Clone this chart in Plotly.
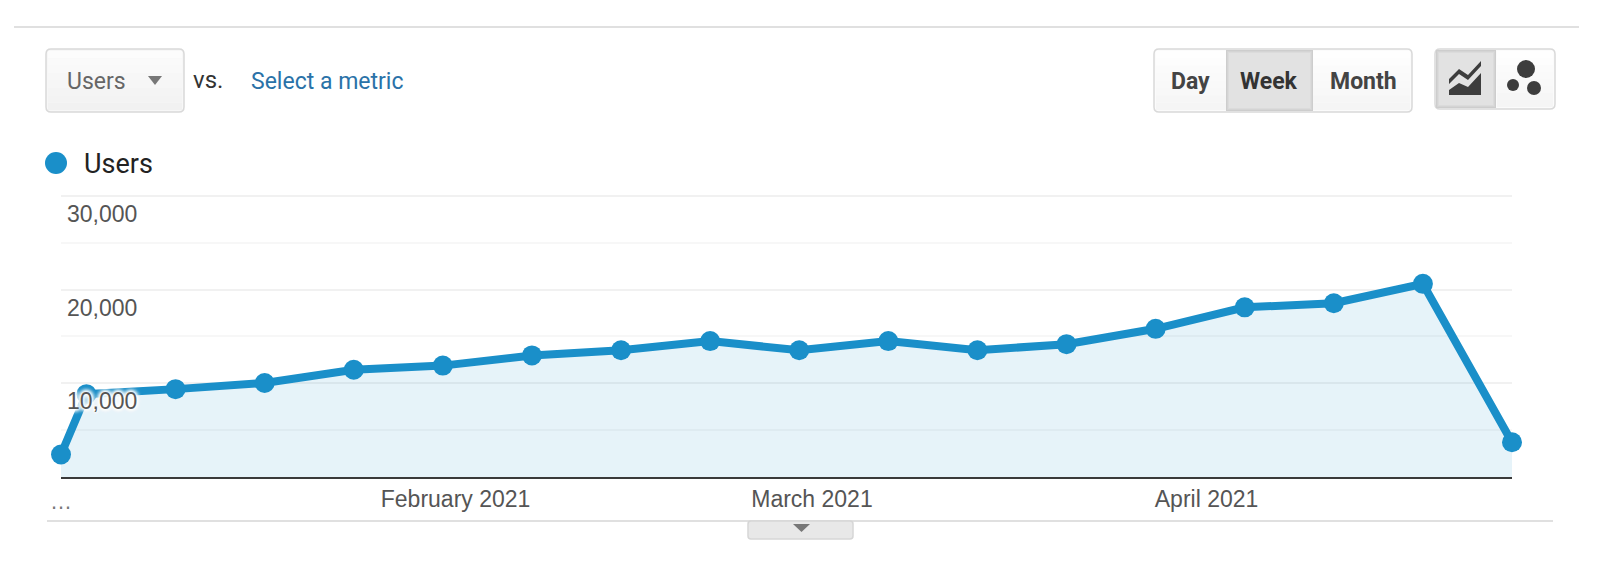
import plotly.graph_objects as go

W = 1600
H = 564

week_dates = ["2021-01-01", "2021-01-03", "2021-01-10", "2021-01-17", "2021-01-24", "2021-01-31",
              "2021-02-07", "2021-02-14", "2021-02-21", "2021-02-28", "2021-03-07", "2021-03-14",
              "2021-03-21", "2021-03-28", "2021-04-04", "2021-04-11", "2021-04-18", "2021-04-25"]
users = [2400, 8840, 9380, 10040, 11450, 11890, 12980, 13530, 14510,
         13530, 14510, 13530, 14180, 15820, 18110, 18550, 20620, 3710]

y_ticks = [10000, 20000, 30000]
y_labels = ["10,000", "20,000", "30,000"]
x_ticks = ["2021-02-01", "2021-03-01", "2021-04-01"]
x_labels = ["February 2021", "March 2021", "April 2021"]
first_tick = "2021-01-01"
first_label = "…"

BLUE = "#1a8fc9"
FILL = "rgba(26,143,201,0.11)"
SANS = "Liberation Sans"
UI = "Roboto"


def px(x):
    return x / W


def py(y):
    return 1 - y / H


def rounded(x0, y0, x1, y1, r=5, left=True, right=True):
    # rounded box as a pixel path, the chart page has margins of 0
    lr = r if left else 0
    rr = r if right else 0
    return (f"M {px(x0 + lr)} {py(y0)} L {px(x1 - rr)} {py(y0)} "
            f"Q {px(x1)} {py(y0)} {px(x1)} {py(y0 + rr)} "
            f"L {px(x1)} {py(y1 - rr)} Q {px(x1)} {py(y1)} {px(x1 - rr)} {py(y1)} "
            f"L {px(x0 + lr)} {py(y1)} Q {px(x0)} {py(y1)} {px(x0)} {py(y1 - lr)} "
            f"L {px(x0)} {py(y0 + lr)} Q {px(x0)} {py(y0)} {px(x0 + lr)} {py(y0)} Z")


def poly(points):
    return "M " + " L ".join(f"{px(a)} {py(b)}" for a, b in points) + " Z"


def box(x0, y0, x1, y1, fill="#f7f7f7", line="#d9d9d9", **kw):
    return dict(type="path", xref="paper", yref="paper", path=rounded(x0, y0, x1, y1, **kw),
                fillcolor=fill, line=dict(color=line, width=1.5))


def rect(x0, y0, x1, y1, fill):
    return dict(type="rect", xref="paper", yref="paper", x0=px(x0), x1=px(x1), y0=py(y0), y1=py(y1),
                fillcolor=fill, line=dict(width=0))


def bands(x0, y0, x1, y1, top, bottom, n=8):
    # stepped grey gradient, shapes have no gradient fill
    out = []
    for i in range(n):
        g = round(top + (bottom - top) * i / (n - 1))
        ya = y0 + (y1 - y0) * i / n
        yb = y0 + (y1 - y0) * (i + 1) / n
        out.append(rect(x0, ya, x1, yb, f"rgb({g},{g},{g})"))
    return out


def sunken(x0, y0, x1, y1):
    # pressed button: darker at the edges, lighter in the middle
    out = []
    for inset, g in [(0, 205), (1, 212), (2, 219), (3, 226)]:
        out.append(rect(x0 + inset, y0 + inset, x1 - inset, y1 - inset, f"rgb({g},{g},{g})"))
    return out


def hline(x0, x1, y, color="#d6d6d6", width=1.5):
    return dict(type="line", xref="paper", yref="paper", x0=px(x0), x1=px(x1), y0=py(y), y1=py(y),
                line=dict(color=color, width=width))


def tri(x0, x1, y0, y1, color="#777777"):
    return dict(type="path", xref="paper", yref="paper", fillcolor=color, line=dict(width=0),
                path=poly([(x0, y0), (x1, y0), ((x0 + x1) / 2, y1)]))


def dot(cx, cy, r, color="#3d3d3d"):
    return dict(type="circle", xref="paper", yref="paper", fillcolor=color, line=dict(width=0),
                x0=px(cx - r), x1=px(cx + r), y0=py(cy - r), y1=py(cy + r))


def label(x, y, text, size=23, color="#666666", family=UI, anchor="left", bold=False):
    if bold:
        text = f"<b>{text}</b>"
    return dict(xref="paper", yref="paper", x=px(x), y=py(y), text=text, showarrow=False,
                xanchor=anchor, yanchor="middle", font=dict(size=size, color=color, family=family))


shapes = [
    hline(14, 1579, 27),
    hline(47, 1553, 521),
    # metric dropdown
    box(46, 49, 184, 112),
    *bands(48, 51, 182, 110, 252, 241),
    tri(148, 162, 76, 85),
    # Day / Week / Month
    box(1154, 49, 1412, 112, fill="#fbfbfb"),
    *bands(1156, 51, 1410, 110, 254, 245),
    *sunken(1226, 50, 1313, 111),
    # chart type buttons
    box(1435, 49, 1555, 109, fill="#fbfbfb"),
    *bands(1497, 51, 1553, 107, 254, 245),
    *sunken(1436, 50, 1496, 108),
    dict(type="path", xref="paper", yref="paper", fillcolor="#3d3d3d", line=dict(width=0),
         path=poly([(1449, 95), (1449, 90), (1459, 83), (1468, 87), (1481, 73), (1481, 95)])),
    dict(type="path", xref="paper", yref="paper", fillcolor="#3d3d3d", line=dict(width=0),
         path=poly([(1449, 79), (1459, 69), (1468, 75), (1481, 61), (1481, 66), (1468, 80), (1459, 74), (1449, 84)])),
    dot(1526, 69, 9),
    dot(1513, 85, 6),
    dot(1534, 88, 7),
    # legend dot
    dot(56, 163, 11, BLUE),
    # expander tab under the chart
    box(748, 521, 853, 539, fill="#e8e8e8", line="#d6d6d6", r=3),
    tri(793, 810, 524, 532),
]

annotations = [
    label(65, 82, "Users"),
    label(191, 80, "vs.", size=24, color="#333333"),
    label(249, 82, "Select a metric", color="#2a72a8"),
    label(1190, 82, "Day", anchor="center", color="#444444", bold=True),
    label(1269, 82, "Week", anchor="center", color="#333333", bold=True),
    label(1363, 82, "Month", anchor="center", color="#444444", bold=True),
    label(82, 164, "Users", size=27, color="#222222"),
    # inside y labels make plotly hide this x label, so it goes on as an annotation
    dict(xref="x", yref="paper", x=first_tick, y=py(501), text=first_label, showarrow=False,
         xanchor="center", yanchor="middle", font=dict(family=SANS, size=22, color="#777777")),
]

fig = go.Figure()
fig.add_trace(go.Scatter(
    x=week_dates, y=users, mode="lines+markers", fill="tozeroy", fillcolor=FILL,
    line=dict(color=BLUE, width=8), marker=dict(color=BLUE, size=20),
    cliponaxis=False, showlegend=False, hoverinfo="x+y",
))

fig.update_layout(
    width=W, height=H, margin=dict(l=0, r=0, t=0, b=0), autosize=False,
    paper_bgcolor="white", plot_bgcolor="white",
    shapes=shapes, annotations=annotations, showlegend=False,
    xaxis=dict(
        type="date", domain=[px(61), px(1512)], range=["2021-01-01", "2021-04-25"],
        tickmode="array", tickvals=x_ticks, ticktext=x_labels, showgrid=False,
        showline=True, linecolor="#3a3a3a", linewidth=2, ticks="", ticklabelstandoff=0,
        tickfont=dict(family=SANS, size=23, color="#555555"), automargin=False,
    ),
    yaxis=dict(
        # range runs a little past 30,000, plotly drops a gridline sitting on the very edge
        domain=[py(477), py(194.1)], range=[0, 30200], tickmode="array",
        tickvals=y_ticks, ticktext=y_labels, ticklabelposition="inside", ticklabelshift=18,
        ticklabelstandoff=3,
        showgrid=True, gridcolor="#f1f1f1", gridwidth=2, zeroline=False, ticks="",
        minor=dict(tickvals=[5000, 15000, 25000], showgrid=True, gridcolor="#f7f7f7", gridwidth=2),
        tickfont=dict(family=SANS, size=23, color="#555555",
                      shadow="0 0 2px white, 0 0 3px white, 0 0 4px white, 0 0 4px white, "
                             "0 0 5px white, 0 0 5px white, 0 0 5px white, 0 0 6px white"),
        automargin=False,
    ),
)

fig.write_html("out.html", config=dict(displayModeBar=False),
               post_script="document.body.style.margin='0';")
